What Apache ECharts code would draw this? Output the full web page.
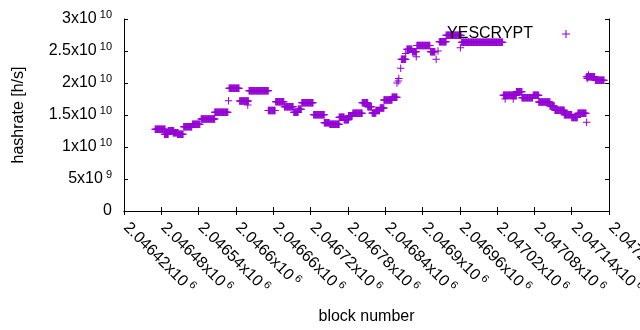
<!DOCTYPE html>
<html><head><meta charset="utf-8">
<script src="https://cdn.jsdelivr.net/npm/echarts@6/dist/echarts.min.js"></script>
<style>html,body{margin:0;padding:0;background:#fff}#c{width:640px;height:330px}</style>
</head><body><div id="c"></div><script>
// Runs of consecutive blocks sharing (about) the same hashrate
const runStartBlock = [2046470,2046485,2046491,2046499,2046506,2046516,2046530,2046544,2046566,2046589,
  2046606,2046621,2046652,2046664,2046678,2046693,2046700,2046706,2046725,2046742,
  2046751,2046766,2046774,2046781,2046788,2046803,2046812,2046819,2046825,2046832,
  2046838,2046851,2046866,2046875,2046884,2046891,2046913,2046927,2046938,2046963,
  2047030,2047051,2047060,2047078,2047087,2047105,2047113,2047128,2047140,2047150,
  2047164,2047178];
const runEndBlock = [2046486,2046491,2046500,2046507,2046515,2046529,2046542,2046566,2046587,2046605,
  2046620,2046652,2046663,2046677,2046692,2046700,2046705,2046724,2046742,2046750,
  2046766,2046774,2046781,2046787,2046803,2046812,2046818,2046825,2046831,2046838,
  2046851,2046859,2046873,2046883,2046890,2046912,2046920,2046938,2046962,2047029,
  2047051,2047060,2047077,2047087,2047105,2047112,2047128,2047140,2047149,2047163,
  2047177,2047192];
const runHashrate = [1.277e10,1.198e10,1.255e10,1.223e10,1.198e10,1.317e10,1.355e10,1.437e10,1.542e10,1.917e10,
  1.719e10,1.88e10,1.57e10,1.708e10,1.63e10,1.542e10,1.59e10,1.692e10,1.505e10,1.38e10,
  1.355e10,1.464e10,1.427e10,1.49e10,1.526e10,1.692e10,1.63e10,1.53e10,1.57e10,1.61e10,
  1.734e10,1.777e10,2.37e10,2.526e10,2.49e10,2.585e10,2.49e10,2.645e10,2.745e10,2.636e10,
  1.808e10,1.864e10,1.77e10,1.808e10,1.703e10,1.64e10,1.573e10,1.505e10,1.46e10,1.526e10,
  2.098e10,2.042e10];
// Isolated points
const singleBlocks = [2046588,2046619,2046859,2046861,2046862,2046865,2046873,2046890,2046922,2046925,
  2046961,2047033,2047046,2047164,2047165,2047167];
const singleHashrates = [1.723e10,1.656e10,2.0e10,2.03e10,2.07e10,2.23e10,2.46e10,2.41e10,2.37e10,2.5e10,
  2.55e10,1.75e10,1.75e10,1.386e10,2.07e10,2.125e10];

const xMin = 2046420, xMax = 2047200, xStep = 60;
const yMin = 0, yMax = 3e10, yStep = 5e9;
const seriesName = 'YESCRYPT';
const xTitle = 'block number';
const yTitle = 'hashrate [h/s]';

const points = [];
runStartBlock.forEach((s, i) => {
  for (let b = s; b <= runEndBlock[i]; b++) points.push([b, runHashrate[i]]);
});
singleBlocks.forEach((b, i) => points.push([b, singleHashrates[i]]));

const FONT = 'Liberation Sans, Arial, sans-serif';
const COLOR = '#9400d3';
const CROSS = 'path://M0,3.25H3.25V0H4.25V3.25H7.5V4.25H4.25V7.5H3.25V4.25H0Z';

function sci(v) {
  if (v === 0) return { m: '0', e: '' };
  const e = Math.floor(Math.log10(v) + 1e-9);
  const m = +(v / Math.pow(10, e)).toFixed(5);
  return { m: m + 'x10', e: String(e) };
}
const richY = {
  m: { fontSize: 16, fontFamily: FONT, color: '#000', lineHeight: 20 },
  s: { fontSize: 11, fontFamily: FONT, color: '#000', lineHeight: 11, verticalAlign: 'top', padding: [0, 0, 0, 3] }
};
const richX = {
  m: { fontSize: 16, fontFamily: FONT, color: '#000', lineHeight: 20, padding: [0, 0, 0, 3] },
  s: { fontSize: 11, fontFamily: FONT, color: '#000', lineHeight: 11, verticalAlign: 'top', padding: [0, 0, 0, 3] }
};
function fmtY(v) { const r = sci(v); return r.e ? '{m|' + r.m + '}{s|' + r.e + '}' : '{m|0}'; }
function fmtX(v) {
  const m = (v / 1e6).toFixed(5).replace(/0+$/, '').replace(/\.$/, '');
  return '{m|' + m + 'x10}{s|6}';
}
const lineStyle = { color: '#000', width: 1 };

const chart = echarts.init(document.getElementById('c'), null, { renderer: 'canvas' });
chart.setOption({
  animation: false,
  backgroundColor: '#fff',
  grid: { left: 124, right: 31, top: 19, bottom: 119, containLabel: false, outerBoundsMode: 'none' },
  legend: {
    data: [seriesName], top: 21, right: 65, align: 'right', itemWidth: 8, itemHeight: 8, icon: CROSS,
    textStyle: { fontSize: 16, fontFamily: FONT, color: '#000', padding: [0, 24, 0, 0] }
  },
  xAxis: [{
    type: 'value', min: xMin, max: xMax, interval: xStep, position: 'bottom',
    name: xTitle, nameLocation: 'middle', nameGap: 98,
    nameTextStyle: { fontSize: 16, fontFamily: FONT, color: '#000' },
    axisLine: { show: true, lineStyle }, axisTick: { show: true, inside: true, length: 4, lineStyle },
    splitLine: { show: false },
    axisLabel: { rotate: -45, margin: 12, formatter: fmtX, rich: richX, showMinLabel: true, showMaxLabel: true, hideOverlap: false }
  }, {
    type: 'value', min: xMin, max: xMax, interval: xStep, position: 'top',
    axisLine: { show: true, lineStyle }, axisTick: { show: true, inside: true, length: 4, lineStyle },
    splitLine: { show: false }, axisLabel: { show: false }
  }],
  yAxis: [{
    type: 'value', min: yMin, max: yMax, interval: yStep, position: 'left',
    name: yTitle, nameLocation: 'middle', nameGap: 97, nameRotate: 90,
    nameTextStyle: { fontSize: 16, fontFamily: FONT, color: '#000' },
    axisLine: { show: true, lineStyle }, axisTick: { show: true, inside: true, length: 4, lineStyle },
    splitLine: { show: false },
    axisLabel: { margin: 12, formatter: fmtY, rich: richY, showMinLabel: true, showMaxLabel: true }
  }, {
    type: 'value', min: yMin, max: yMax, interval: yStep, position: 'right',
    axisLine: { show: true, lineStyle }, axisTick: { show: true, inside: true, length: 4, lineStyle },
    splitLine: { show: false }, axisLabel: { show: false }
  }],
  series: [{
    name: seriesName, type: 'scatter', xAxisIndex: 0, yAxisIndex: 0,
    symbol: CROSS, symbolSize: 7.5, itemStyle: { color: COLOR, opacity: 1 },
    emphasis: { disabled: true }, data: points
  }]
});
</script></body></html>
